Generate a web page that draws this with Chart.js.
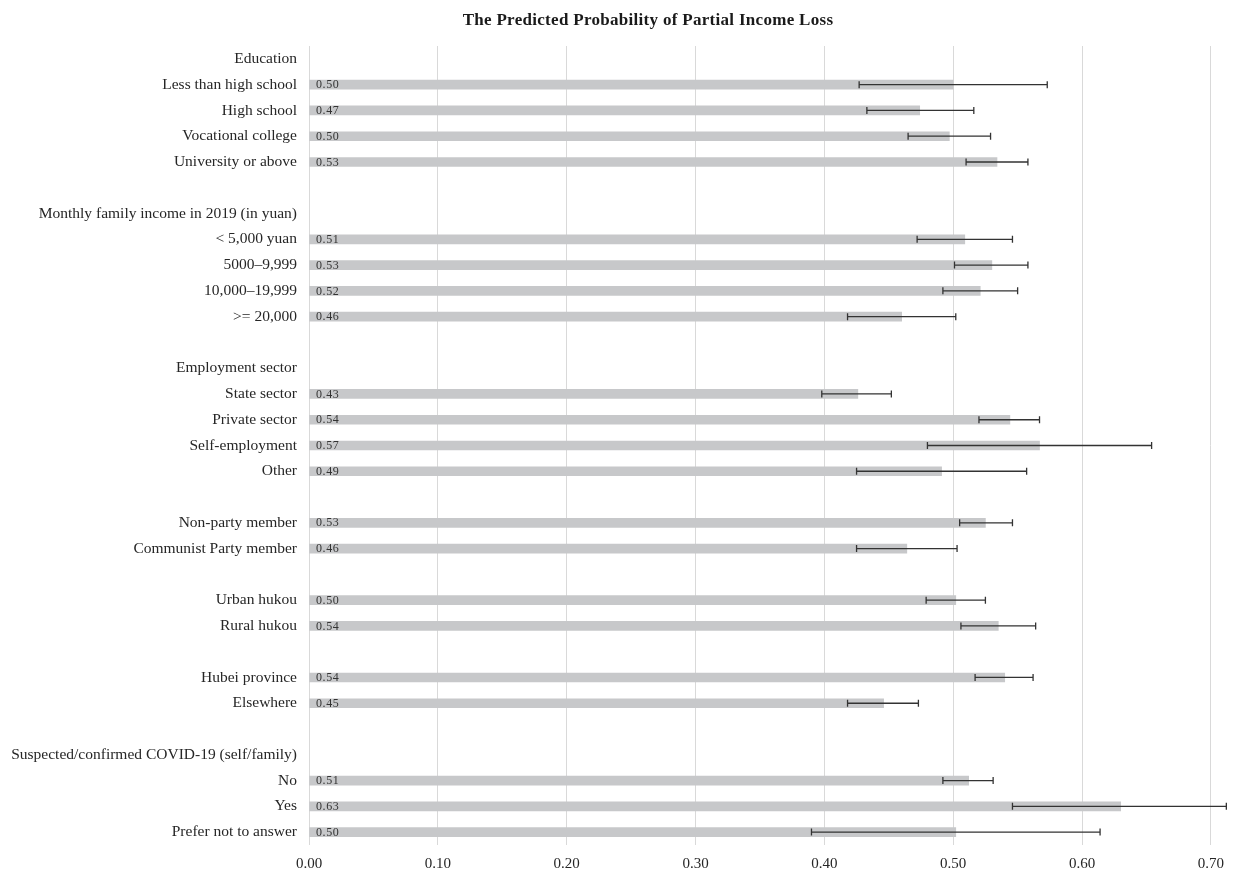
<!DOCTYPE html>
<html>
<head>
<meta charset="utf-8">
<script src="https://cdn.jsdelivr.net/npm/chart.js@4"></script>
<style>
  body { margin: 0; background: #fff; }
  #wrap { width: 1234px; height: 875px; }
</style>
</head>
<body>
<div id="wrap"><canvas id="probChart"></canvas></div>
<script>
const categories = [
    'Education', 'Less than high school', 'High school', 'Vocational college', 'University or above', '',
    'Monthly family income in 2019 (in yuan)', '< 5,000 yuan', '5000\u20139,999', '10,000\u201319,999', '>= 20,000', '',
    'Employment sector', 'State sector', 'Private sector', 'Self-employment', 'Other', '',
    'Non-party member', 'Communist Party member', '',
    'Urban hukou', 'Rural hukou', '',
    'Hubei province', 'Elsewhere', '',
    'Suspected/confirmed COVID-19 (self/family)', 'No', 'Yes', 'Prefer not to answer'
];

// predicted probability, null for header / spacer rows
const probs = [
    null, 0.500, 0.474, 0.497, 0.534, null,
    null, 0.509, 0.530, 0.521, 0.460, null,
    null, 0.426, 0.544, 0.567, 0.491, null,
    0.525, 0.464, null,
    0.502, 0.535, null,
    0.540, 0.446, null,
    null, 0.512, 0.630, 0.502
];

// 95% CI lower / upper
const lower = [
    null, 0.427, 0.433, 0.465, 0.510, null,
    null, 0.472, 0.501, 0.492, 0.418, null,
    null, 0.398, 0.520, 0.480, 0.425, null,
    0.505, 0.425, null,
    0.479, 0.506, null,
    0.517, 0.418, null,
    null, 0.492, 0.546, 0.390
];
const upper = [
    null, 0.573, 0.516, 0.529, 0.558, null,
    null, 0.546, 0.558, 0.550, 0.502, null,
    null, 0.452, 0.567, 0.654, 0.557, null,
    0.546, 0.503, null,
    0.525, 0.564, null,
    0.562, 0.473, null,
    null, 0.531, 0.712, 0.614
];

const chartTitle = 'The Predicted Probability of Partial Income Loss';
const serif = "'Liberation Serif', 'DejaVu Serif', serif";

// error bars, value labels and the (off-centre) title
const extrasPlugin = {
    id: 'extras',
    afterDatasetsDraw(chart) {
        const ctx = chart.ctx;
        const x = chart.scales.x;
        const y = chart.scales.y;
        ctx.save();
        probs.forEach((v, i) => {
            if (v === null) return;
            const py = y.getPixelForValue(i);
            ctx.fillStyle = '#333333';
            ctx.font = '12px ' + serif;
            ctx.letterSpacing = '0.6px';
            ctx.textAlign = 'left';
            ctx.textBaseline = 'middle';
            ctx.fillText(v.toFixed(2), x.getPixelForValue(0) + 7, py + 0.5);

            const x1 = x.getPixelForValue(lower[i]);
            const x2 = x.getPixelForValue(upper[i]);
            ctx.strokeStyle = '#333333';
            ctx.lineWidth = 1.3;
            ctx.beginPath();
            ctx.moveTo(x1, py); ctx.lineTo(x2, py);
            ctx.moveTo(x1, py - 3.5); ctx.lineTo(x1, py + 3.5);
            ctx.moveTo(x2, py - 3.5); ctx.lineTo(x2, py + 3.5);
            ctx.stroke();
        });

        ctx.fillStyle = '#1a1a1a';
        ctx.font = 'bold 17px ' + serif;
        ctx.letterSpacing = '0.3px';
        ctx.textAlign = 'center';
        ctx.textBaseline = 'alphabetic';
        ctx.fillText(chartTitle, 648, 25);
        ctx.restore();
    }
};

const ctx = document.getElementById('probChart').getContext('2d');

new Chart(ctx, {
    type: 'bar',
    data: {
        labels: categories,
        datasets: [{
            data: probs,
            backgroundColor: '#c7c8ca',
            barThickness: 9
        }]
    },
    options: {
        indexAxis: 'y',
        responsive: true,
        maintainAspectRatio: false,
        animation: false,
        layout: {
            padding: { left: 0, right: 23, top: 46, bottom: 3 }
        },
        scales: {
            x: {
                min: 0,
                max: 0.7,
                afterFit(scale) { scale.height = 27; },
                ticks: {
                    stepSize: 0.1,
                    padding: 10,
                    color: '#262626',
                    font: { family: serif, size: 15 },
                    callback: v => Number(v).toFixed(2)
                },
                grid: { color: '#d9d9d9', drawTicks: false },
                border: { display: false }
            },
            y: {
                afterFit(scale) { scale.width = 309; },
                ticks: {
                    padding: 12,
                    autoSkip: false,
                    color: '#262626',
                    font: { family: serif, size: 15.5 }
                },
                grid: { display: false, drawTicks: false },
                border: { display: false }
            }
        },
        plugins: {
            legend: { display: false },
            tooltip: { enabled: false },
            title: { display: false }
        }
    },
    plugins: [extrasPlugin]
});
</script>
</body>
</html>
